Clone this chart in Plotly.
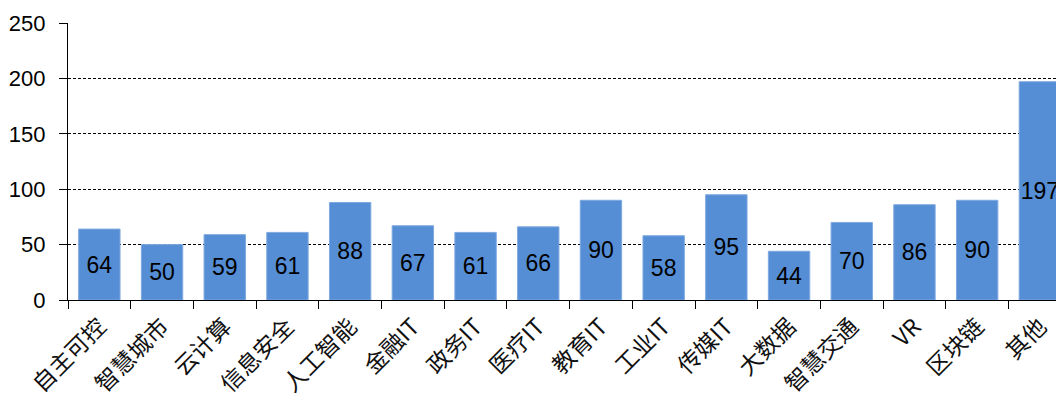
import plotly.graph_objects as go

categories = ["自主可控", "智慧城市", "云计算", "信息安全", "人工智能", "金融IT", "政务IT", "医疗IT",
              "教育IT", "工业IT", "传媒IT", "大数据", "智慧交通", "VR", "区块链", "其他"]
values = [64, 50, 59, 61, 88, 67, 61, 66, 90, 58, 95, 44, 70, 86, 90, 197]
y_ticks = [0, 50, 100, 150, 200, 250]

fig = go.Figure(go.Bar(
    x=categories, y=values,
    text=[str(v) for v in values],
    textposition="inside", insidetextanchor="middle",
    textangle=0, constraintext="none",
    textfont=dict(family="Liberation Sans, Arial", size=23, color="black"),
    marker=dict(color="#558ED5", line=dict(color="#7FA9E0", width=1)),
    width=0.66,
    cliponaxis=False,
))

fig.update_layout(
    width=1056, height=395,
    margin=dict(l=60, r=0, t=15, b=103),
    plot_bgcolor="white", paper_bgcolor="white",
    showlegend=False,
    font=dict(family="Liberation Sans, Arial", color="black"),
)
fig.update_xaxes(
    type="category",
    range=[-0.5, 15.385],
    tickangle=-45,
    tickfont=dict(family="Noto Sans CJK SC", size=23, color="#111"),
    ticklabelstandoff=3,
    showline=True, linecolor="black", linewidth=1.2,
    ticks="outside", ticklen=8, tickcolor="black", tickson="boundaries",
    showgrid=False, automargin=False,
)
fig.update_yaxes(
    range=[0, 250], tickvals=y_ticks,
    tickfont=dict(family="Liberation Sans, Arial", size=22, color="black"),
    ticklabelstandoff=9,
    showline=True, linecolor="black", linewidth=1.2,
    ticks="outside", ticklen=8, tickcolor="black",
    showgrid=True, gridcolor="black", gridwidth=0.8, griddash="3px,2px",
    zeroline=False, automargin=False,
)

fig.write_html("out.html")
